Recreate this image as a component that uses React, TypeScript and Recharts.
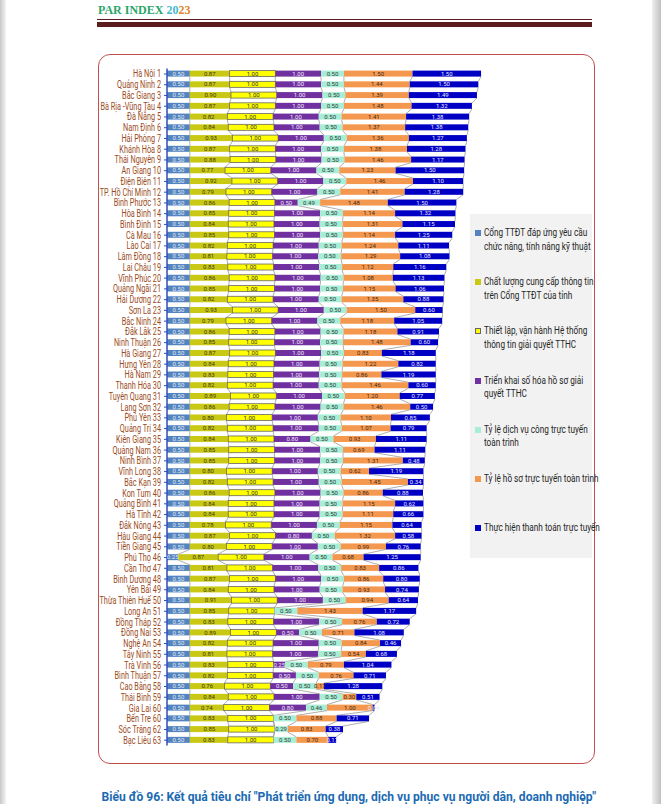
import React from 'react';
import { BarChart, Bar, XAxis, YAxis, LabelList } from 'recharts';

// Provinces, top to bottom (rank order as printed)
const PROVINCES = [
  'Hà Nội 1', 'Quảng Ninh 2', 'Bắc Giang 3', 'Bà Rịa -Vũng Tàu 4', 'Đà Nẵng 5', 'Nam Định 6', 'Hải Phòng 7',
  'Khánh Hòa 8', 'Thái Nguyên 9', 'An Giang 10', 'Điện Biên 11', 'TP. Hồ Chí Minh 12', 'Bình Phước 13',
  'Hòa Bình 14', 'Bình Định 15', 'Cà Mau 16', 'Lào Cai 17', 'Lâm Đồng 18', 'Lai Châu 19', 'Vĩnh Phúc 20',
  'Quảng Ngãi 21', 'Hải Dương 22', 'Sơn La 23', 'Bắc Ninh 24', 'Đắk Lắk 25', 'Ninh Thuận 26', 'Hà Giang 27',
  'Hưng Yên 28', 'Hà Nam 29', 'Thanh Hóa 30', 'Tuyên Quang 31', 'Lạng Sơn 32', 'Phú Yên 33', 'Quảng Trị 34',
  'Kiên Giang 35', 'Quảng Nam 36', 'Ninh Bình 37', 'Vĩnh Long 38', 'Bắc Kạn 39', 'Kon Tum 40', 'Quảng Bình 41',
  'Hà Tĩnh 42', 'Đắk Nông 43', 'Hậu Giang 44', 'Tiền Giang 45', 'Phú Thọ 46', 'Cần Thơ 47', 'Bình Dương 48',
  'Yên Bái 49', 'Thừa Thiên Huế 50', 'Long An 51', 'Đồng Tháp 52', 'Đồng Nai 53', 'Nghệ An 54', 'Tây Ninh 55',
  'Trà Vinh 56', 'Bình Thuận 57', 'Cao Bằng 58', 'Thái Bình 59', 'Gia Lai 60', 'Bến Tre 60', 'Sóc Trăng 62',
  'Bạc Liêu 63',
];

const CONG_TTDT = [
  0.5, 0.5, 0.5, 0.5, 0.5, 0.5, 0.5, 0.5, 0.5, 0.5, 0.5, 0.5, 0.5, 0.5, 0.5, 0.5, 0.5, 0.5, 0.5, 0.5, 0.5,
  0.5, 0.5, 0.5, 0.5, 0.5, 0.5, 0.5, 0.5, 0.5, 0.5, 0.5, 0.5, 0.5, 0.5, 0.5, 0.5, 0.5, 0.5, 0.5, 0.5, 0.5,
  0.5, 0.5, 0.5, 0.25, 0.5, 0.5, 0.5, 0.5, 0.5, 0.5, 0.5, 0.5, 0.5, 0.5, 0.5, 0.5, 0.5, 0.5, 0.5, 0.5, 0.5,
];
const CHAT_LUONG = [
  0.87, 0.87, 0.9, 0.87, 0.82, 0.84, 0.93, 0.87, 0.88, 0.77, 0.92, 0.79, 0.86, 0.85, 0.84, 0.85, 0.82, 0.81,
  0.83, 0.86, 0.85, 0.82, 0.93, 0.79, 0.86, 0.85, 0.87, 0.84, 0.83, 0.82, 0.89, 0.86, 0.8, 0.82, 0.84, 0.85,
  0.85, 0.8, 0.82, 0.86, 0.84, 0.84, 0.78, 0.87, 0.8, 0.87, 0.81, 0.87, 0.84, 0.91, 0.85, 0.83, 0.89, 0.82,
  0.81, 0.83, 0.82, 0.76, 0.84, 0.74, 0.83, 0.85, 0.83,
];
const HE_THONG = [
  1, 1, 1, 1, 1, 1, 1, 1, 1, 1, 1, 1, 1, 1, 1, 1, 1, 1, 1, 1, 1, 1, 1, 1, 1, 1, 1, 1, 1, 1, 1, 1,
  1, 1, 1, 1, 1, 1, 1, 1, 1, 1, 1, 1, 1, 1, 1, 1, 1, 1, 1, 1, 1, 1, 1, 1, 1, 1, 1, 1, 1, 1, 1,
];
const SO_HOA = [
  1, 1, 1, 1, 1, 1, 1, 1, 1, 1, 1, 1, 0.5, 1, 1, 1, 1, 1, 1, 1, 1, 1, 1, 1, 1, 1, 1, 1, 1, 1, 1, 1,
  1, 1, 0.8, 1, 1, 1, 1, 1, 1, 1, 1, 0.8, 1, 1, 1, 1, 1, 1, 0, 1, 0.5, 1, 1, 0.25, 0.5, 0.5, 1, 0.8, 0, 0, 0,
];
const DVC_TOAN_TRINH = [
  0.5, 0.5, 0.5, 0.5, 0.5, 0.5, 0.5, 0.5, 0.5, 0.5, 0.5, 0.5, 0.49, 0.5, 0.5, 0.5, 0.5, 0.5, 0.5, 0.5, 0.5,
  0.5, 0.5, 0.5, 0.5, 0.5, 0.5, 0.5, 0.5, 0.5, 0.5, 0.5, 0.5, 0.5, 0.5, 0.5, 0.5, 0.5, 0.5, 0.5, 0.5, 0.5,
  0.5, 0.5, 0.5, 0.5, 0.5, 0.5, 0.5, 0.5, 0.5, 0.5, 0.5, 0.5, 0.5, 0.5, 0.5, 0.5, 0.5, 0.46, 0.5, 0.29, 0.5,
];
const HO_SO_TOAN_TRINH = [
  1.5, 1.44, 1.39, 1.48, 1.41, 1.37, 1.36, 1.38, 1.46, 1.23, 1.46, 1.41, 1.48, 1.14, 1.31, 1.14, 1.24, 1.29,
  1.12, 1.08, 1.15, 1.35, 1.5, 1.18, 1.18, 1.48, 0.83, 1.22, 0.86, 1.46, 1.2, 1.46, 1.1, 1.07, 0.93, 0.69,
  1.31, 0.62, 1.45, 0.86, 1.15, 1.11, 1.15, 1.32, 0.99, 0.68, 0.83, 0.86, 0.93, 0.94, 1.43, 0.76, 0.71, 0.84,
  0.54, 0.79, 0.76, 0.17, 0.3, 1.0, 0.88, 0.83, 0.7,
];
const THANH_TOAN = [
  1.5, 1.5, 1.49, 1.32, 1.38, 1.38, 1.27, 1.28, 1.17, 1.5, 1.1, 1.28, 1.5, 1.32, 1.15, 1.25, 1.11, 1.08,
  1.16, 1.13, 1.06, 0.88, 0.6, 1.05, 0.91, 0.6, 1.18, 0.82, 1.19, 0.6, 0.77, 0.5, 0.85, 0.79, 1.11, 1.11,
  0.48, 1.19, 0.34, 0.88, 0.62, 0.66, 0.64, 0.58, 0.76, 1.25, 0.86, 0.8, 0.74, 0.64, 1.17, 0.72, 1.08, 0.46,
  0.68, 1.04, 0.71, 1.28, 0.51, 0.04, 0.71, 0.38, 0.17,
];

const SERIES = [
  { key: 's1', values: CONG_TTDT, name: 'Cổng TTĐT đáp ứng yêu cầu chức năng, tính năng kỹ thuật', color: '#5384C0', text: '#E4E8F2' },
  { key: 's2', values: CHAT_LUONG, name: 'Chất lượng cung cấp thông tin trên Cổng TTĐT của tỉnh', color: '#C9C814', text: '#3A3A10' },
  { key: 's3', values: HE_THONG, name: 'Thiết lập, vận hành Hệ thống thông tin giải quyết TTHC', color: '#FFFF00', text: '#333333', border: '#666666' },
  { key: 's4', values: SO_HOA, name: 'Triển khai số hóa hồ sơ giải quyết TTHC', color: '#7030A0', text: '#F2E8FA' },
  { key: 's5', values: DVC_TOAN_TRINH, name: 'Tỷ lệ dịch vụ công trực tuyến toàn trình', color: '#A8EDD5', text: '#2E3B36' },
  { key: 's6', values: HO_SO_TOAN_TRINH, name: 'Tỷ lệ hồ sơ trực tuyến toàn trình', color: '#F5984F', text: '#3A2A1A' },
  { key: 's7', values: THANH_TOAN, name: 'Thực hiện thanh toán trực tuyến', color: '#0000C4', text: '#E6E6FF' },
];

const LEGEND_LINES = [
  ['Cổng TTĐT đáp ứng yêu cầu', 'chức năng, tính năng kỹ thuật'],
  ['Chất lượng cung cấp thông tin', 'trên Cổng TTĐT của tỉnh'],
  ['Thiết lập, vận hành Hệ thống', 'thông tin giải quyết TTHC'],
  ['Triển khai số hóa hồ sơ giải', 'quyết TTHC'],
  ['Tỷ lệ dịch vụ công trực tuyến', 'toàn trình'],
  ['Tỷ lệ hồ sơ trực tuyến toàn trình'],
  ['Thực hiện thanh toán trực tuyến'],
];

const data = PROVINCES.map((name, i) => {
  const row: any = { name };
  SERIES.forEach(s => { row[s.key] = s.values[i]; });
  return row;
});

const FONT = "Roboto, 'Noto Sans', sans-serif";

const CHART_LEFT = 70;
const CHART_W = 422;
const CHART_H = 690;
const MARGIN = { top: 8.6, right: 5, bottom: 4.4, left: 0 };
const YAXIS_W = 97;
const X_MAX = 7;
const PLOT_W = CHART_W - MARGIN.left - MARGIN.right - YAXIS_W;
const ROW_H = (CHART_H - MARGIN.top - MARGIN.bottom) / PROVINCES.length;

// cumulative end of series k for a row
const cumEnd = (i: number, k: number) => {
  let s = 0;
  for (let j = 0; j <= k; j++) s += SERIES[j].values[i];
  return s;
};

// bar segment + Excel-style series line to the next row
const makeShape = (k: number) => (props: any) => {
  const { x, y, width, height, index } = props;
  const s = SERIES[k];
  const ppu = PLOT_W / X_MAX;
  const origin = MARGIN.left + YAXIS_W;
  let line = null;
  if (index < PROVINCES.length - 1) {
    const nx = origin + ppu * cumEnd(index + 1, k);
    line = <line x1={x + width} y1={y + height} x2={nx} y2={y + ROW_H} stroke="#8C8C8C" strokeWidth={0.7} />;
  }
  return (
    <g>
      {width > 0 && (
        <rect x={x} y={y} width={width} height={height} fill={s.color}
          stroke={s.border || 'none'} strokeWidth={s.border ? 0.8 : 0} />
      )}
      {line}
    </g>
  );
};

const fmt = (v: any) => (typeof v === 'number' && v > 0 ? v.toFixed(2) : '');

// condensed single-line province label
const ProvinceTick = (props: any) => {
  const { x, y, payload } = props;
  return (
    <g transform={`translate(${x - 1},${y}) scale(0.73,1)`}>
      <text x={0} y={0} dy="0.35em" textAnchor="end" fill="#9A4B1E" fontSize={10} fontFamily={FONT}>
        {payload.value}
      </text>
    </g>
  );
};

export default function App() {
  return (
    <div style={{ position: 'relative', width: 661, height: 804, background: '#fff', overflow: 'hidden', fontFamily: FONT }}>
      <style>{'body{margin:0}'}</style>
      {/* page edge shadows */}
      <div style={{ position: 'absolute', left: 0, top: 0, width: 6, height: 804, background: 'linear-gradient(to right,#c8c8c8,#f4f4f4)' }} />
      <div style={{ position: 'absolute', right: 0, top: 0, width: 9, height: 804, background: 'linear-gradient(to left,#c0c0c0,#f0f0f0)' }} />

      {/* header */}
      <div style={{ position: 'absolute', left: 98, top: 3, fontFamily: "'Liberation Serif', 'DejaVu Serif', serif", fontWeight: 700, fontSize: 12 }}>
        <span style={{ color: '#2BA66A' }}>PAR INDEX </span>
        <span style={{ color: '#45B9D6' }}>20</span>
        <span style={{ color: '#E0862A' }}>23</span>
      </div>
      <div style={{ position: 'absolute', left: 97, top: 19, width: 495, height: 1, background: '#5A1E1E' }} />
      <div style={{ position: 'absolute', left: 97, top: 22, width: 495, height: 5, background: '#5A1E1E' }} />

      {/* framed chart box */}
      <div style={{ position: 'absolute', left: 98, top: 54, width: 497, height: 710, border: '1.3px solid #C0504D', borderRadius: 12, boxSizing: 'border-box' }} />

      <div style={{ position: 'absolute', left: CHART_LEFT, top: 60 }}>
        <BarChart width={CHART_W} height={CHART_H} data={data} layout="vertical" margin={MARGIN} barCategoryGap={0} barSize={6}>
          <XAxis type="number" domain={[0, X_MAX]} hide />
          <YAxis
            type="category"
            dataKey="name"
            width={YAXIS_W}
            interval={0}
            axisLine={{ stroke: '#2C4FC2', strokeWidth: 1.5 }}
            tickLine={{ stroke: '#2C4FC2' }}
            tickSize={3}
            tick={<ProvinceTick />}
          />
          {SERIES.map((s, k) => (
            <Bar key={s.key} dataKey={s.key} stackId="a" fill={s.color} shape={makeShape(k)} isAnimationActive={false}>
              <LabelList dataKey={s.key} position="center" formatter={fmt} fill={s.text} fontSize={6} fontFamily={FONT} />
            </Bar>
          ))}
        </BarChart>
      </div>

      {/* legend */}
      <div style={{ position: 'absolute', left: 470, top: 214, width: 122, height: 344, background: '#F2F2F2' }}>
        {SERIES.map((s, k) => (
          <div key={s.key} style={{ position: 'absolute', left: 5, top: 12 + k * 49.2, display: 'flex', alignItems: 'flex-start' }}>
            <div style={{ width: 6, height: 6, marginTop: 4, marginRight: 3, flexShrink: 0, background: s.color, border: s.border ? `1px solid ${s.border}` : 'none', boxSizing: 'border-box' }} />
            <div style={{ fontSize: 10.5, lineHeight: '13.5px', color: '#262626', whiteSpace: 'nowrap', transform: 'scaleX(0.78)', transformOrigin: 'left top' }}>
              {LEGEND_LINES[k].map((l, j) => <div key={j}>{l}</div>)}
            </div>
          </div>
        ))}
      </div>

      {/* caption */}
      <div style={{ position: 'absolute', left: 18, width: 661, top: 786, textAlign: 'center' }}>
        <span style={{ display: 'inline-block', whiteSpace: 'nowrap', color: '#1B6AB3', fontWeight: 700, fontSize: 13, transform: 'scaleX(0.93)', transformOrigin: 'center' }}>
          Biểu đồ 96: Kết quả tiêu chí "Phát triển ứng dụng, dịch vụ phục vụ người dân, doanh nghiệp"
        </span>
      </div>
    </div>
  );
}
